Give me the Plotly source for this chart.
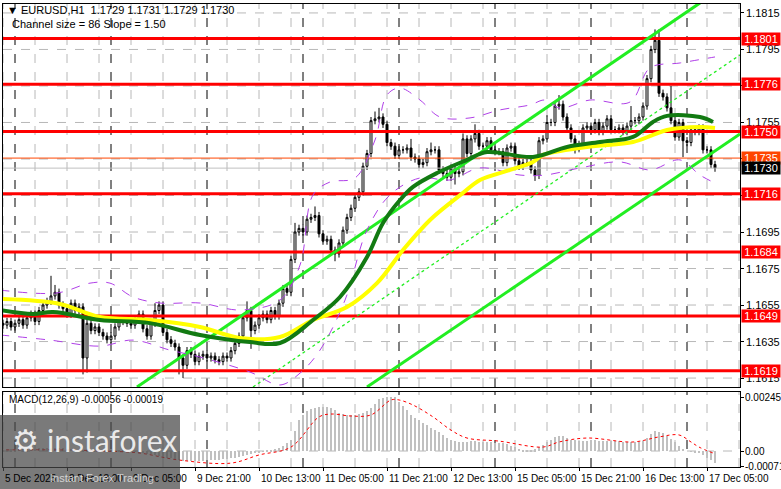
import plotly.graph_objects as go

# ---------------- data ----------------
closes = [1.1644,1.1646,1.1643,1.1645,1.1647,1.1644,1.1648,1.1650,1.1646,1.1652,1.1655,1.1657,
          1.1660,1.1662,1.1655,1.1653,1.1650,1.1656,1.1652,1.1654,1.1626,1.1645,
          1.1641,1.1643,1.1640,1.1638,1.1636,1.1638,1.1643,1.1646,1.1647,1.1645,1.1644,1.1647,1.1650,1.1642,1.1638,1.1645,1.1652,1.1655,1.1640,1.1636,1.1634,1.1632,
          1.1626,1.1622,1.1630,1.1628,1.1624,1.1627,1.1628,1.1626,1.1627,1.1625,1.1624,1.1627,1.1626,1.1630,1.1634,1.1638,1.1648,1.1652,1.1641,
          1.1644,1.1648,1.1650,1.1647,1.1652,1.1649,1.1656,1.1664,1.1662,1.1680,1.1695,1.1697,1.1695,1.1702,1.1703,1.1704,1.1694,1.1690,1.1691,1.1685,1.1683,1.1689,1.1696,1.1703,1.1708,1.1714,1.1717,1.1731,1.1738,1.1756,1.1757,1.1758,1.1754,1.1744,1.1742,1.1737,1.1740,
          1.1740,1.1741,1.1736,1.1735,1.1732,1.1733,1.1739,1.1740,1.1740,1.1729,1.1727,1.1725,1.1730,1.1727,1.1728,1.1746,1.1738,1.1746,1.1749,1.1742,1.1742,1.1745,1.1740,1.1739,1.1739,1.1733,1.1741,1.1742,1.1734,1.1731,1.1733,1.1733,1.1729,1.1726,1.1745,1.1746,1.1755,1.1755,1.1764,1.1765,1.1758,1.1752,
          1.1746,1.1741,1.1743,1.1752,1.1753,1.1751,1.1755,1.1750,1.1753,1.1757,1.1751,1.1751,1.1752,1.1750,1.1753,1.1756,1.1756,1.1758,1.1764,1.1779,1.1795,1.1800,1.1771,1.1769,1.1763,1.1756,1.1747,1.1755,1.1745,1.1744,1.1751,1.1750,1.1752,1.1740,1.1740,1.1732,1.1730]
first_open = 1.1645
# wick lengths in pips (default 2) with readings for the long ones
upper_wick_pips = {12: 11, 13: 4, 38: 4, 61: 5, 73: 5, 78: 5, 93: 4, 94: 5, 102: 5, 107: 4, 115: 3, 118: 5, 136: 4, 139: 5, 157: 8, 163: 6, 164: 6, 167: 12}
lower_wick_pips = {20: 9, 21: 8, 44: 9, 45: 7, 62: 10, 83: 4, 113: 6, 133: 3, 143: 3, 170: 9, 177: 2}

ma_fast_x = [-0.75,7.5,12.5,24.25,36.75,49.25,61.75,69.25,77.5,84.25,91,95,99.25,102.5,108.5,116,121,132.5,141,149.25,157.5,162.5,166,174.25,177.5]
ma_fast_y = [1.16523,1.16501,1.16512,1.16468,1.16451,1.16386,1.16347,1.16342,1.16468,1.16594,1.16813,1.16999,1.17125,1.17197,1.17273,1.17345,1.17388,1.17361,1.17416,1.17443,1.17471,1.17553,1.17586,1.1758,1.17553]
ma_slow_x = [-0.75,14.25,24.25,36.75,49.25,59.25,69.25,77.5,86,93.5,100,106.75,115,119.25,126.75,132.5,135,146,157.5,162.5,166,174.25,178]
ma_slow_y = [1.16583,1.16556,1.16484,1.16468,1.1643,1.16369,1.16375,1.16468,1.16539,1.1667,1.16851,1.17016,1.17164,1.17235,1.1729,1.17334,1.17372,1.17416,1.17443,1.17482,1.17509,1.17525,1.1752]
bb_up_x = [-0.75,13.5,21.75,26.75,32.5,39.25,49.25,59.25,69.25,74.25,77.5,81.75,88,93,96,99.25,104.25,109.25,116.75,124.25,131.75,135.5,139.25,146.75,156.75,161.75,169.25,178]
bb_up_y = [1.16632,1.16616,1.1667,1.1667,1.16594,1.16561,1.16561,1.16523,1.16577,1.16769,1.17153,1.17224,1.17246,1.17454,1.17701,1.17739,1.17673,1.1758,1.17575,1.17619,1.17646,1.17673,1.17629,1.17673,1.17662,1.17849,1.17876,1.17909]
bb_lo_x = [-0.75,11.75,24.25,32.5,41.75,49.25,61.75,69.25,74.25,79.25,85.5,91,96.75,104.25,111.75,119.25,129.25,135.5,144.25,154.25,161.75,169.25,174.25,178]
bb_lo_y = [1.16386,1.16358,1.16325,1.16358,1.16303,1.16265,1.16183,1.16112,1.16177,1.16303,1.16577,1.16961,1.17153,1.17246,1.17235,1.17301,1.17262,1.17262,1.17301,1.17334,1.1729,1.17345,1.17262,1.17218]

channel_upper = ([33.5, 174.25], [1.16101, 1.18205])
channel_mid = ([62.5, 184.25], [1.16101, 1.1792])
channel_lower = ([91.0, 184.25], [1.16101, 1.17487])

levels = [1.1801, 1.1776, 1.1750, 1.1716, 1.1684, 1.1649, 1.1619]
price_ticks = [1.1615, 1.1635, 1.1655, 1.1675, 1.1695, 1.1715, 1.1735, 1.1755, 1.1775, 1.1795, 1.1815]

macd_hist = [6,8,7,9,10,8,9,10,11,12,12,13,14,14,13,12,11,10,9,8,2,2,3,4,4,3,2,2,3,3,2,
             0,-2,-4,-6,-9,
             -12,-15,-18,-22,-26,-30,-34,-38,-42,-45,-46,-46,-45,-44,-44,-43,-42,-42,-40,-38,-36,-33,-30,-26,-22,-18,-14,
             -10,-6,-2,2,5,8,14,24,36,50,90,140,165,180,190,196,200,202,200,195,185,175,168,164,162,162,166,172,182,195,215,235,242,245,246,244,225,
             205,186,164,148,140,127,116,105,95,86,73,59,50,45,41,41,43,45,44,42,40,40,40,38,37,35,30,25,18,10,5,5,6,8,18,28,40,50,62,70,66,58,
             52,48,45,46,47,48,48,47,46,45,45,44,44,43,42,42,41,41,45,60,78,92,88,80,70,55,40,25,10,0,-3,-5,-10,-20,-30,-42,-56]
signal_x = [-0.75,15,25,34,44,57,64,72,79,82,87,92,97,99,102.5,107.5,112,116,124,135,139,146,157.5,164,169,172,174,177.5]
signal_y = [5,5,0,-9,-41,-55,-18,18,155,168,159,164,232,232,209,155,95,59,45,18,41,59,41,64,73,41,18,-9]

date_ticks = [0, 16, 32, 48, 64, 80, 96, 112, 128, 144, 160, 176]
date_labels = ["5 Dec 2025", "8 Dec 13:00", "9 Dec 05:00", "9 Dec 21:00", "10 Dec 13:00", "11 Dec 05:00",
               "11 Dec 21:00", "12 Dec 13:00", "15 Dec 05:00", "15 Dec 21:00", "16 Dec 13:00", "17 Dec 05:00"]
day_separators = [3, 27, 51, 75, 99, 123, 147, 171]
macd_ticks = [0.00245, 0.0, -0.00071]

# ---------------- build ----------------
n = len(closes)
bars = list(range(n))
opens = [first_open] + closes[:-1]
highs = [max(o, c) + upper_wick_pips.get(i, 2) * 0.0001 for i, (o, c) in enumerate(zip(opens, closes))]
lows = [min(o, c) - lower_wick_pips.get(i, 2) * 0.0001 for i, (o, c) in enumerate(zip(opens, closes))]

FONT = "Liberation Sans"
FS = 11
FS2 = 10
W, H = 781, 489
XR = [-0.75, 184.25]
YR = [1.16101, 1.18199]
MR = [-0.000727, 0.002682]

fig = go.Figure()
for lv in levels:
    fig.add_trace(go.Scatter(x=XR, y=[lv, lv], mode="lines", line=dict(color="#ff0000", width=3), hoverinfo="skip"))
fig.add_trace(go.Scatter(x=XR, y=[1.17355, 1.17355], mode="lines", line=dict(color="#ff4500", width=1), hoverinfo="skip"))
fig.add_trace(go.Scatter(x=XR, y=[closes[-1], closes[-1]], mode="lines", line=dict(color="#c0c0c0", width=1), hoverinfo="skip"))
for cx, cy, dash in [(channel_upper[0], channel_upper[1], "solid"), (channel_lower[0], channel_lower[1], "solid"),
                     (channel_mid[0], channel_mid[1], "dot")]:
    fig.add_trace(go.Scatter(x=cx, y=cy, mode="lines", line=dict(color="#22ee22", width=3 if dash == "solid" else 1.3, dash=dash), hoverinfo="skip"))
for bx, by in [(bb_up_x, bb_up_y), (bb_lo_x, bb_lo_y)]:
    fig.add_trace(go.Scatter(x=bx, y=by, mode="lines", line=dict(color="#b040e8", width=1, dash="dash", shape="spline"), hoverinfo="skip"))
fig.add_trace(go.Scatter(x=ma_slow_x, y=ma_slow_y, mode="lines", line=dict(color="#ffff00", width=4, shape="spline"), hoverinfo="skip"))
fig.add_trace(go.Scatter(x=ma_fast_x, y=ma_fast_y, mode="lines", line=dict(color="#127a12", width=4, shape="spline"), hoverinfo="skip"))
fig.add_trace(go.Candlestick(x=bars, open=opens, high=highs, low=lows, close=closes,
                             increasing=dict(line=dict(color="black", width=1), fillcolor="white"),
                             decreasing=dict(line=dict(color="black", width=1), fillcolor="black"),
                             whiskerwidth=0, hoverinfo="skip"))
fig.add_trace(go.Bar(x=bars, y=[v * 1e-5 for v in macd_hist], marker=dict(color="#c0c0c0", line=dict(width=0)),
                     width=0.55, xaxis="x2", yaxis="y2", hoverinfo="skip"))
fig.add_trace(go.Scatter(x=signal_x, y=[v * 1e-5 for v in signal_y], mode="lines", xaxis="x2", yaxis="y2",
                         line=dict(color="#ff0000", width=1, dash="dot", shape="spline"), hoverinfo="skip"))

xd = [3 / W, 740 / W]
main_dom = [(H - 387) / H, (H - 4) / H]
macd_dom = [(H - 467) / H, (H - 392) / H]
fig.update_layout(
    width=W, height=H, margin=dict(l=0, r=0, t=0, b=0), showlegend=False,
    paper_bgcolor="white", plot_bgcolor="white", hovermode=False,
    font=dict(family=FONT, size=FS, color="black"),
    xaxis=dict(domain=xd, range=[XR[0] + 0.75, XR[1]], showgrid=False, zeroline=False, showticklabels=False,
               rangeslider=dict(visible=False), showline=True, mirror=True, linecolor="black", linewidth=1, anchor="y"),
    yaxis=dict(domain=main_dom, range=YR, showgrid=False, zeroline=False, side="right", tickvals=price_ticks,
               showticklabels=False, ticks="outside", ticklen=3, tickcolor="black",
               showline=True, mirror=True, linecolor="black", linewidth=1),
    xaxis2=dict(domain=xd, range=[XR[0] + 0.75, XR[1]], showgrid=False, zeroline=False, showticklabels=False,
                showline=True, mirror=True, linecolor="black", linewidth=1, anchor="y2", tickvals=date_ticks,
                ticks="outside", ticklen=3, tickcolor="black"),
    yaxis2=dict(domain=macd_dom, range=MR, showgrid=False, zeroline=False, side="right", tickvals=macd_ticks,
                showticklabels=False, ticks="outside", ticklen=3, tickcolor="black",
                showline=True, mirror=True, linecolor="black", linewidth=1),
    bargap=0,
)

shapes = []
for b in range(0, n + 8, 8):
    for xa, ya in [("x", "y domain"), ("x2", "y2 domain")]:
        shapes.append(dict(type="line", xref=xa, yref=ya, x0=b, x1=b, y0=0, y1=1, layer="below",
                           line=dict(color="#b8b8b8", width=1, dash="dash")))
for b in day_separators:
    for xa, ya in [("x", "y domain"), ("x2", "y2 domain")]:
        shapes.append(dict(type="line", xref=xa, yref=ya, x0=b, x1=b, y0=0, y1=1, layer="below",
                           line=dict(color="black", width=1, dash="dash")))
for p in price_ticks:
    shapes.append(dict(type="line", xref="x domain", yref="y", x0=0, x1=1, y0=p, y1=p, layer="below",
                       line=dict(color="#b8b8b8", width=1, dash="dash")))
shapes.append(dict(type="line", xref="x2 domain", yref="y2", x0=0, x1=1, y0=0, y1=0, layer="below",
                   line=dict(color="#b8b8b8", width=1, dash="dash")))
# watermark
shapes.append(dict(type="rect", xref="paper", yref="paper", x0=0, x1=180 / W, y0=0, y1=(H - 415) / H,
                   fillcolor="rgba(70,70,70,0.72)", line=dict(width=0), layer="above"))
fig.update_layout(shapes=shapes)

ann = []
def px_y(y):
    return (H - y) / H
for p in price_ticks:
    ann.append(dict(x=744 / W, y=p, xref="paper", yref="y", text=f"{p:.4f}", showarrow=False,
                    xanchor="left", yanchor="middle", font=dict(size=FS, family=FONT)))
for v, t in zip(macd_ticks, ["0.00245", "0.00", "-0.00071"]):
    ann.append(dict(x=743 / W, y=v, xref="paper", yref="y2", text=t, showarrow=False,
                    xanchor="left", yanchor="middle", font=dict(size=FS2, family=FONT)))
ann.append(dict(x=741 / W, y=1.17355, xref="paper", yref="y", text="1.1735", showarrow=False, xanchor="left",
                yanchor="middle", bgcolor="#ff4500", font=dict(size=FS, color="white", family=FONT), borderpad=0, width=38))
ann.append(dict(x=741 / W, y=closes[-1], xref="paper", yref="y", text=f"{closes[-1]:.4f}", showarrow=False, xanchor="left",
                yanchor="middle", bgcolor="black", font=dict(size=FS, color="white", family=FONT), borderpad=0, width=38))
for lv in levels:
    ann.append(dict(x=741 / W, y=lv, xref="paper", yref="y", text=f"{lv:.4f}", showarrow=False, xanchor="left",
                    yanchor="middle", bgcolor="#ff0000", font=dict(size=FS, color="white", family=FONT), borderpad=0, width=38))
for b, t in zip(date_ticks, date_labels):
    ann.append(dict(x=b, y=px_y(478), xref="x2", yref="paper", text=t, showarrow=False, xanchor="left",
                    yanchor="middle", font=dict(size=FS2, family=FONT)))
ann.append(dict(x=5 / W, y=px_y(10), xref="paper", yref="paper", text="▼ EURUSD,H1  1.1729 1.1731 1.1729 1.1730",
                showarrow=False, xanchor="left", yanchor="middle", font=dict(size=FS, family=FONT)))
ann.append(dict(x=10 / W, y=px_y(24), xref="paper", yref="paper", text="Channel size = 86 Slope = 1.50",
                showarrow=False, xanchor="left", yanchor="middle", font=dict(size=FS, family=FONT)))
ann.append(dict(x=7 / W, y=px_y(399), xref="paper", yref="paper", text="MACD(12,26,9) -0.00056 -0.00019",
                showarrow=False, xanchor="left", yanchor="middle", font=dict(size=FS2, family=FONT)))
ann.append(dict(x=45 / W, y=px_y(440), xref="paper", yref="paper", text="instaforex",
                showarrow=False, xanchor="left", yanchor="middle", font=dict(size=30, family="Lato", color="rgba(255,255,255,0.85)")))
ann.append(dict(x=48 / W, y=px_y(478), xref="paper", yref="paper", text="Instant Forex Trading",
                showarrow=False, xanchor="left", yanchor="middle", font=dict(size=11, family=FONT, color="rgba(230,230,230,0.85)")))
ann.append(dict(x=10 / W, y=px_y(440), xref="paper", yref="paper", text="⚙",
                showarrow=False, xanchor="left", yanchor="middle", font=dict(size=30, family="DejaVu Sans", color="rgba(255,255,255,0.85)")))
fig.update_layout(annotations=ann)

fig.write_html("out.html", config={"displayModeBar": False})
with open("out.html", encoding="utf-8") as f:
    html = f.read()
html = html.replace("<head>", "<head><style>html,body{margin:0;padding:0;overflow:hidden;}</style>", 1)
with open("out.html", "w", encoding="utf-8") as f:
    f.write(html)
